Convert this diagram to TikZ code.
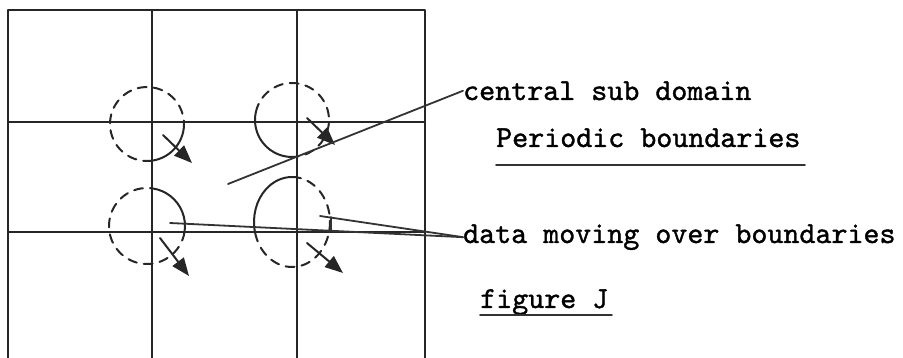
\documentclass[tikz,border=0pt]{standalone}
\usepackage{fontspec}
\newfontfamily\typer{lmmono10-regular.otf}[FakeBold=1.2]
\usetikzlibrary{arrows.meta}
\begin{document}
\begin{tikzpicture}[
    x=1pt, y=-1pt,
    line join=round, line cap=round, >={Triangle[length=18pt,width=14pt]},
    grid/.style={line width=2.2pt, black!85},
    ring/.style={line width=2pt, black!85},
    ringdash/.style={ring, dash pattern=on 9pt off 7pt},
    move/.style={->, line width=2pt, black!85},
    lead/.style={line width=1.8pt, black!80},
    lbl/.style={anchor=base west, inner sep=0pt, font=\fontsize{30.5}{36}\selectfont\typer}
    ]
    \useasboundingbox (0,0) rectangle (903,358);
    % sub domains
    \draw[grid] (8,358) -- (8,10) -- (425,10) -- (425,358);
    \draw[grid] (152,10) -- (152,358);
    \draw[grid] (297,10) -- (297,358);
    \draw[grid] (8,122) -- (425,122);
    \draw[grid] (8,232) -- (425,232);
    % data circles
    \draw[ring] (147,124) ++(-5:37) arc[start angle=-5, end angle=82, radius=37];
    \draw[ringdash] (147,124) ++(82:37) arc[start angle=82, end angle=355, radius=37];
    \draw[ring] (292,120) ++(82:37) arc[start angle=82, end angle=192, radius=37];
    \draw[ringdash] (292,120) ++(192:37) arc[start angle=192, end angle=442, radius=37];
    \draw[ring] (147,226) ++(-82:38) arc[start angle=-82, end angle=9, radius=38];
    \draw[ringdash] (147,226) ++(9:38) arc[start angle=9, end angle=278, radius=38];
    \draw[ring] (292,222) ++(167:38 and 45) arc[start angle=167, end angle=270, x radius=38, y radius=45];
    \draw[ringdash] (292,222) ++(270:38 and 45) arc[start angle=270, end angle=527, x radius=38, y radius=45];
    \draw[move] (163,135) -- (192,163);
    \draw[move] (307,118) -- (335,145);
    \draw[move] (160,238) -- (189,276);
    \draw[move] (307,243) -- (343,273);
    % labels
    \node[lbl] (central) at (463,100) {central sub domain};
    \node[lbl] (periodic) at (496,147) {Periodic boundaries};
    \node[lbl] (moving) at (463,243) {data moving over boundaries};
    \node[lbl] (figJ) at (480,308) {figure J};
    \coordinate (cc) at (228,184);
    \coordinate (mvl) at (170,223);
    \coordinate (mvr) at (320,216);
    \draw[lead] (central.west) -- (cc);
    \draw[lead] (moving.west) -- (mvl);
    \draw[lead] (moving.west) -- (mvr);
    \draw[lead] (331,217) -- (331,230);
    \draw[lead] (496,165) -- (805,165);
    \draw[lead] (480,315) -- (612,315);
\end{tikzpicture}
\end{document}
